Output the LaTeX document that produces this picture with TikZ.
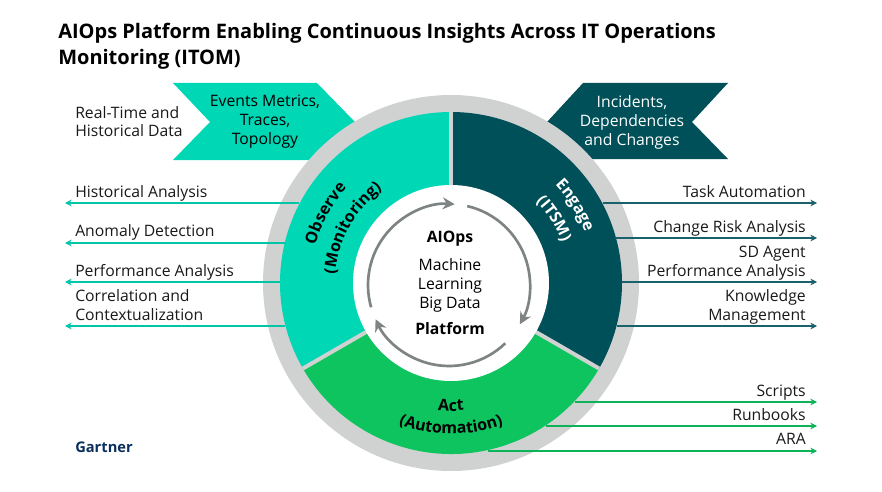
\documentclass[tikz,border=0pt]{standalone}
\usepackage{fontspec}
\setmainfont{Open Sans}
\usetikzlibrary{arrows.meta,decorations.text}
\definecolor{obscol}{HTML}{00D7B5}
\definecolor{engcol}{HTML}{00505A}
\definecolor{actcol}{HTML}{0DC45F}
\definecolor{ringcol}{HTML}{D0D1D1}
\definecolor{turncol}{HTML}{7E8383}
\definecolor{logocol}{HTML}{0A2F5C}
\tikzset{
  lab/.style={font=\fontsize{11.8}{14.2}\selectfont, inner sep=0pt, text=black!90},
  lableft/.style={lab, anchor=base west, align=left},
  labright/.style={lab, anchor=base east, align=right},
  tag/.style={font=\fontsize{11.8}{14.2}\selectfont, align=center, inner sep=0pt},
  obsline/.style={draw=obscol!92!black, line width=0.8pt, -{Stealth[length=5pt,width=5pt]}},
  engline/.style={draw=engcol!90, line width=0.8pt, -{Stealth[length=5pt,width=5pt]}},
  actline/.style={draw=actcol!92!black, line width=0.8pt, -{Stealth[length=5pt,width=5pt]}},
  turn/.style={draw=turncol, line width=2pt, -{Stealth[length=9pt,width=9pt]}},
  arclab/.style={decorate, decoration={text along path, text align=center, text={#1}}},
}
\begin{document}
\begin{tikzpicture}[x=0.75pt,y=0.75pt]
  \useasboundingbox (0,0) rectangle (882,-492);
  \coordinate (c) at (451,-283);
  % title
  \node (title) [anchor=base west, align=left, inner sep=0pt, font=\fontsize{15}{19.6}\selectfont\bfseries]
    at (58,-64.5) {AIOps Platform Enabling Continuous Insights Across IT Operations\\Monitoring (ITOM)};
  % chevrons behind the ring
  \fill[obscol] (173,-83) -- (317,-83) -- (355,-122) -- (317,-160) -- (173,-160) -- (210,-122) -- cycle;
  \fill[engcol] (547,-122) -- (583,-83) -- (728,-83) -- (692,-122) -- (728,-159) -- (583,-159) -- cycle;
  \node (events) [tag] at (265,-122) {Events Metrics,\\Traces,\\Topology};
  \node (incid) [tag, text=white] at (632,-122) {Incidents,\\Dependencies\\and Changes};
  % ring
  \fill[ringcol] (c) circle[radius=188];
  \fill[obscol] (c) -- ++(90:171) arc[start angle=90, end angle=210, radius=171] -- cycle;
  \fill[engcol] (c) -- ++(90:171) arc[start angle=90, end angle=-30, radius=171] -- cycle;
  \fill[actcol] (c) -- ++(210:171) arc[start angle=210, end angle=330, radius=171] -- cycle;
  \draw[ringcol, line width=3pt] (c) -- ++(90:171);
  \draw[ringcol, line width=3pt] (c) -- ++(210:171);
  \draw[ringcol, line width=3pt] (c) -- ++(330:171);
  \fill[white] (c) circle[radius=98];
  % turning arrows
  \coordinate (t) at (449,-285);
  \draw[turn] (t) ++(196:81) arc[start angle=196, end angle=86, radius=81];
  \draw[turn] (t) ++(77:81) arc[start angle=77, end angle=-29, radius=81];
  \draw[turn] (t) ++(-46:81) arc[start angle=-46, end angle=-155, radius=81];
  % middle
  \node (aiops) [tag, font=\fontsize{11.8}{14}\selectfont\bfseries] at (450,-239) {AIOps};
  \node (tech) [tag] at (450,-285) {Machine\\Learning\\Big Data};
  \node (plat) [tag, font=\fontsize{11.8}{14}\selectfont\bfseries] at (450,-329) {Platform};
  % sector names
  \path[arclab={|\fontsize{12}{13}\selectfont\bfseries|Observe}]
    (c) ++(195:141) arc[start angle=195, end angle=107, radius=141];
  \path[arclab={|\fontsize{12}{13}\selectfont\bfseries|(Monitoring)}]
    (c) ++(195:116) arc[start angle=195, end angle=107, radius=116];
  \path[arclab={|\fontsize{12}{13}\selectfont\bfseries\color{white}|Engage}]
    (c) ++(75:143) arc[start angle=75, end angle=-11, radius=143];
  \path[arclab={|\fontsize{12}{13}\selectfont\bfseries\color{white}|(ITSM)}]
    (c) ++(75:118) arc[start angle=75, end angle=-11, radius=118];
  \path[arclab={|\fontsize{12}{13}\selectfont\bfseries|Act}]
    (c) ++(235:128) arc[start angle=235, end angle=305, radius=128];
  \path[arclab={|\fontsize{12}{13}\selectfont\bfseries|(Automation)}]
    (c) ++(235:151) arc[start angle=235, end angle=305, radius=151];
  % left side
  \node (rtd) [lableft] at (75,-137) {Real-Time and\\Historical Data};
  \node (hist) [lableft] at (75,-197) {Historical Analysis};
  \node (anom) [lableft] at (75,-236) {Anomaly Detection};
  \node (perf) [lableft] at (75,-276) {Performance Analysis};
  \node (corr) [lableft] at (75,-320) {Correlation and\\Contextualization};
  \coordinate (h1) at (299,-203);
  \coordinate (h2) at (65,-203);
  \coordinate (a1) at (285,-243);
  \coordinate (a2) at (65,-243);
  \coordinate (p1) at (280,-282);
  \coordinate (p2) at (65,-282);
  \coordinate (k1) at (285,-326);
  \coordinate (k2) at (65,-326);
  \draw[obsline] (h1) -- (h2);
  \draw[obsline] (a1) -- (a2);
  \draw[obsline] (p1) -- (p2);
  \draw[obsline] (k1) -- (k2);
  % right side
  \node (task) [labright] at (806,-197) {Task Automation};
  \node (risk) [labright] at (806,-232) {Change Risk Analysis};
  \node (agent) [labright] at (806,-276) {SD Agent\\Performance Analysis};
  \node (know) [labright] at (806,-320) {Knowledge\\Management};
  \coordinate (t1) at (603,-203);
  \coordinate (t2) at (817,-203);
  \coordinate (r1) at (615,-238);
  \coordinate (r2) at (817,-238);
  \coordinate (s1) at (622,-282);
  \coordinate (s2) at (817,-282);
  \coordinate (m1) at (617,-326);
  \coordinate (m2) at (817,-326);
  \draw[engline] (t1) -- (t2);
  \draw[engline] (r1) -- (r2);
  \draw[engline] (s1) -- (s2);
  \draw[engline] (m1) -- (m2);
  % bottom right
  \node (scr) [labright] at (806,-396) {Scripts};
  \node (run) [labright] at (806,-420) {Runbooks};
  \node (ara) [labright] at (806,-444) {ARA};
  \coordinate (c1) at (575,-402);
  \coordinate (c2) at (817,-402);
  \coordinate (b1) at (546,-426);
  \coordinate (b2) at (817,-426);
  \coordinate (d1) at (488,-451);
  \coordinate (d2) at (817,-451);
  \draw[actline] (c1) -- (c2);
  \draw[actline] (b1) -- (b2);
  \draw[actline] (d1) -- (d2);
  % logo
  \node (logo) [anchor=base west, inner sep=0pt, text=logocol, font=\fontsize{11}{13}\selectfont\bfseries] at (75,-452) {Gartner};
\end{tikzpicture}
\end{document}
